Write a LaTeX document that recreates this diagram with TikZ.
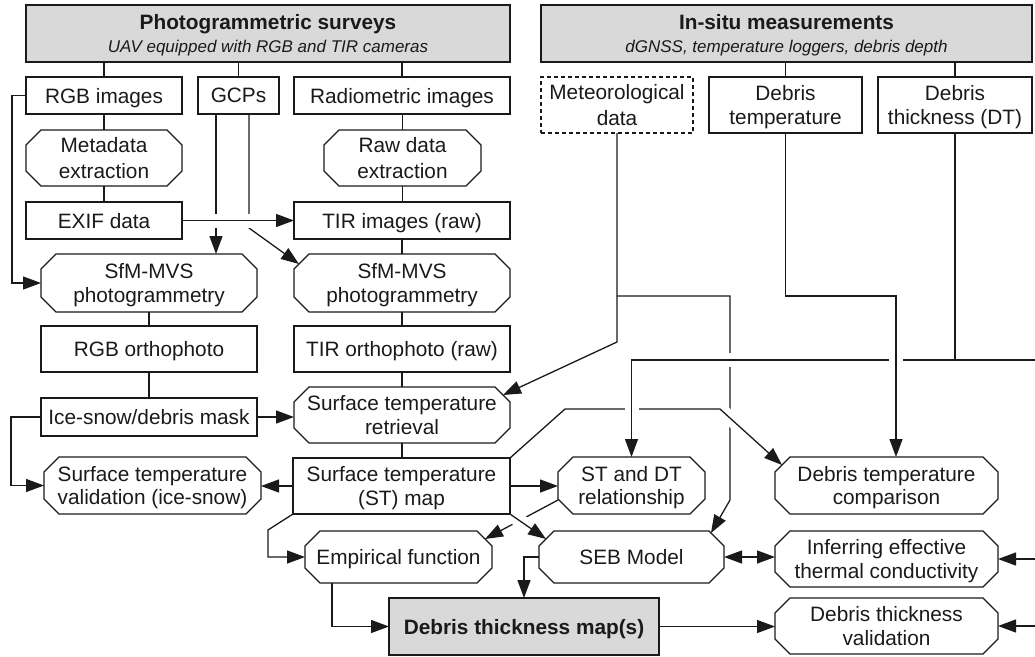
\documentclass[tikz,border=0pt]{standalone}
\usepackage{fontspec}
\setmainfont{Liberation Sans}
\usetikzlibrary{arrows.meta,calc}
\pgfdeclarelayer{bg}
\pgfsetlayers{bg,main}
\definecolor{hdr}{HTML}{D9D9D9}
\definecolor{ink}{HTML}{1A1A1A}
\newcommand\octdraw[1]{\draw[ln] ($(#1.north west)+(15,0)$) -- ($(#1.north east)+(-15,0)$) -- ($(#1.north east)+(0,15)$) -- ($(#1.south east)+(0,-15)$) -- ($(#1.south east)+(-15,0)$) -- ($(#1.south west)+(15,0)$) -- ($(#1.south west)+(0,-15)$) -- ($(#1.north west)+(0,15)$) -- cycle;}
\begin{document}
\begin{tikzpicture}[x=1pt,y=-1pt,
  every node/.style={inner sep=0pt, outer sep=0pt, align=center, text=ink, text depth=0pt, font=\fontsize{20.8}{23.5}\selectfont},
  ln/.style={draw=ink, line width=1.3pt},
  bx/.style={ln, fill=white},
  hd/.style={ln, fill=hdr, font=\fontsize{20.8}{22.5}\selectfont},
  arr/.style={ln, -{Triangle[length=18pt,width=13pt]}},
  darr/.style={ln, {Triangle[length=18pt,width=13pt]}-{Triangle[length=18pt,width=13pt]}},
  halo/.style={preaction={draw=white, line width=14pt, -}}]
\useasboundingbox (0,0) rectangle (1035,656);

% header boxes
\node[hd, minimum width=484, minimum height=57] (photo) at (268,33.5)
  {\textbf{Photogrammetric surveys}\\{\fontsize{17}{22.5}\selectfont\itshape UAV equipped with RGB and TIR cameras}};
\node[hd, minimum width=491, minimum height=57] (insitu) at (786.5,33.5)
  {\textbf{In-situ measurements}\\{\fontsize{17}{22.5}\selectfont\itshape dGNSS, temperature loggers, debris depth}};

% rectangles
\node[bx, minimum width=156, minimum height=37] (rgbimg) at (104,95.5) {RGB images};
\node[bx, minimum width=81, minimum height=37] (gcps) at (238.5,95.5) {GCPs};
\node[bx, minimum width=216, minimum height=37] (radimg) at (402,95.5) {Radiometric images};
\node[bx, dashed, dash pattern=on 4pt off 3pt, minimum width=152, minimum height=56] (met) at (617,105) {Meteorological\\[3pt]data};
\node[bx, minimum width=153, minimum height=56] (dtemp) at (785.5,105) {Debris\\temperature};
\node[bx, minimum width=154, minimum height=56] (dthick) at (955,105) {Debris\\thickness (DT)};
\node[bx, minimum width=156, minimum height=37] (exif) at (104,220.5) {EXIF data};
\node[bx, minimum width=216, minimum height=37] (tirraw) at (402,220.5) {TIR images (raw)};
\node[bx, minimum width=216, minimum height=46] (rgbortho) at (149,349) {RGB orthophoto};
\node[bx, minimum width=216, minimum height=46] (tirortho) at (402,349) {TIR orthophoto (raw)};
\node[bx, minimum width=216, minimum height=38] (mask) at (149,417) {Ice-snow/debris mask};
\node[bx, minimum width=217, minimum height=56] (stmap) at (401.5,486) {Surface temperature\\(ST) map};
\node[hd, font=\fontsize{20.8}{23.5}\selectfont, minimum width=270, minimum height=57] (dtm) at (524,626.5) {\textbf{Debris thickness map(s)}};

% octagons
\node[minimum width=156, minimum height=56] (meta) at (104,158) {Metadata\\[3pt]extraction};
\node[minimum width=157, minimum height=56] (rawext) at (402.5,158) {Raw data\\[3pt]extraction};
\node[minimum width=216, minimum height=58] (sfm1) at (149,283) {SfM-MVS\\photogrammetry};
\node[minimum width=216, minimum height=58] (sfm2) at (402,283) {SfM-MVS\\photogrammetry};
\node[minimum width=216, minimum height=56] (stret) at (402,415) {Surface temperature\\retrieval};
\node[minimum width=217, minimum height=57] (stval) at (152.5,485.5) {Surface temperature\\validation (ice-snow)};
\node[minimum width=147, minimum height=57] (stdt) at (631.5,485.5) {ST and DT\\relationship};
\node[minimum width=223, minimum height=57] (dtc) at (886.5,485.5) {Debris temperature\\comparison};
\node[minimum width=187, minimum height=52] (emp) at (398.5,557) {Empirical function};
\node[minimum width=185, minimum height=52] (seb) at (631.5,557) {SEB Model};
\node[minimum width=223, minimum height=56] (inf) at (886.5,559) {Inferring effective\\thermal conductivity};
\node[minimum width=223, minimum height=56] (dtv) at (886.5,626) {Debris thickness\\validation};
\foreach \n in {meta,rawext,sfm1,sfm2,stret,stval,stdt,dtc,emp,seb,inf,dtv} {\octdraw{\n}}

% helper coordinates
\coordinate (g1) at ($(gcps.south)+(-22.5,0)$);
\coordinate (g2) at ($(gcps.south)+(10.5,0)$);
\coordinate (g2b) at ($(g2)+(0,114)$);
\coordinate (rl) at (12,0);
\coordinate (ml) at (11,0);
\coordinate (mj) at ($(met.south)+(0,163)$);
\coordinate (mk) at ($(met.south)+(0,209)$);
\coordinate (mv1) at (730,296);
\coordinate (mv2) at (730,500);
\coordinate (s1) at (565,409);
\coordinate (s2) at (720,409);
\coordinate (dj) at (955,360);
\coordinate (redge) at (1035,360);
\coordinate (edge) at (1035,0);
\coordinate (ej) at (268,530);
\coordinate (ea) at ($(emp.south west)+(27,0)$);
\coordinate (tc) at ($(dtc.north)+(9.5,0)$);

\begin{pgfonlayer}{bg}
% plain connectors
\draw[ln] (rgbimg.north |- photo.south) -- (rgbimg.north);
\draw[ln] (gcps.north |- photo.south) -- (gcps.north);
\draw[ln] (radimg.north |- photo.south) -- (radimg.north);
\draw[ln] (dtemp.north |- insitu.south) -- (dtemp.north);
\draw[ln] (dthick.north |- insitu.south) -- (dthick.north);
\draw[ln] (rgbimg.south) -- (meta.north);
\draw[ln] (meta.south) -- (exif.north);
\draw[ln] (rawext.north |- radimg.south) -- (rawext.north);
\draw[ln] (rawext.south) -- (rawext.south |- tirraw.north);
\draw[ln] (tirraw.south) -- (sfm2.north);
\draw[ln] (sfm1.south) -- (rgbortho.north);
\draw[ln] (sfm2.south) -- (tirortho.north);
\draw[ln] (rgbortho.south) -- (mask.north);
\draw[ln] (tirortho.south) -- (stret.north);
\draw[ln] (stret.south) -- (stret.south |- stmap.north);
\draw[arr] (rgbimg.west) -- (rgbimg.west -| rl) |- (sfm1.west);
\draw[arr] (mask.west) -- (mask.west -| ml) |- (stval.west);
\draw[arr] (mask.east) -- (mask.east -| stret.west);
\draw[arr] (stmap.west) -- (stmap.west -| stval.east);
\draw[arr] (stmap.east) -- (stmap.east -| stdt.west);
\draw[arr] (stmap.south west) -- (ej) |- (emp.west);
\draw[arr] (ea) |- (dtm.west);
\draw[arr] (seb.west) -| (dtm.north);
\draw[darr] (seb.east) -- (seb.east -| inf.west);
\draw[arr] (dtm.east) -- (dtm.east -| dtv.west);
\draw[arr] (inf.east -| edge) -- (inf.east);
\draw[arr] (dtv.east -| edge) -- (dtv.east);
% GCP lines
\draw[arr] (g1) -- (g1 |- sfm1.north);
\draw[arr] (g2) -- (g2b) -- ($(sfm2.north west)+(5,10)$);
% meteorological lines
\draw[arr] (met.south) -- (mk) -- ($(stret.north east)+(-7,8)$);
\draw[arr] (mj) -- (mv1) -- (mv2) -- ($(seb.north east)+(-13,2)$);
% ST&DT -> empirical
\draw[arr] ($(stdt.south west)+(0,-14)$) -- ($(emp.north east)+(-7,8)$);
% crossing connectors (drawn with gaps)
\draw[arr, halo] (stmap.north east) -- (s1) -- (s2) -- ($(dtc.north west)+(7,8)$);
\draw[arr, halo] (stmap.south east) -- ($(seb.north west)+(7,8)$);
\draw[arr, halo] (exif.east) -- (tirraw.west);
\draw[arr, halo] (dthick.south) -- (dj) -- (redge) (dj) -| (stdt.north);
\draw[arr, halo] (dtemp.south) |- ($(tc)+(0,-161)$) -- (tc);
\end{pgfonlayer}
\end{tikzpicture}
\end{document}
